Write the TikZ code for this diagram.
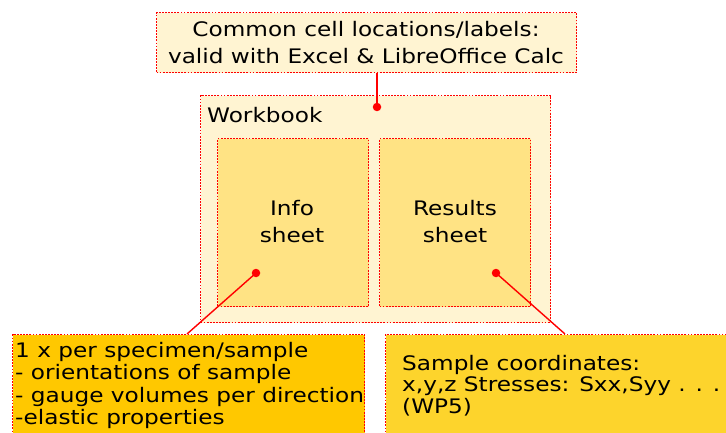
\documentclass[tikz,border=0pt]{standalone}
\usepackage{fontspec}
\setmainfont[FakeStretch=1.16]{DejaVu Sans}
\definecolor{cream}{HTML}{FFF4D2}
\definecolor{sheetc}{HTML}{FFE384}
\definecolor{leftc}{HTML}{FFC800}
\definecolor{rightc}{HTML}{FDD42C}
\begin{document}
\begin{tikzpicture}[x=1pt,y=-1pt,
  box/.style={draw=red, line width=1.1pt, dash pattern=on 1.8pt off 1.3pt, inner sep=0pt, anchor=north west},
  lbl/.style={font=\fontsize{20}{27}\selectfont, align=center, inner sep=0pt},
  note/.style={font=\fontsize{20}{22.5}\selectfont, align=left, inner sep=0pt, anchor=north west},
  dot/.style={circle, fill=red, inner sep=0pt, minimum size=8.5pt},
  conn/.style={red, line width=1.4pt}]
\useasboundingbox (0,0) rectangle (726,433);
\clip (0,0) rectangle (726,433);
% boxes
\node[box, fill=cream, minimum width=420, minimum height=60] (top) at (156,12) {};
\node[box, fill=cream, minimum width=350, minimum height=227] (wb) at (200,95) {};
\node[box, fill=sheetc, minimum width=151, minimum height=168] (info) at (217,138) {};
\node[box, fill=sheetc, minimum width=151, minimum height=168] (res) at (379,138) {};
\node[box, fill=leftc, minimum width=352, minimum height=130] (lbox) at (12,334) {};
\node[box, fill=rightc, minimum width=400, minimum height=130] (rbox) at (385,334) {};
% texts
\node[lbl] (toptext) at (366,43) {Common cell locations/labels:\\valid with Excel \& LibreOffice Calc};
\node[lbl, anchor=base west] (wbtext) at (207,123) {Workbook};
\node[lbl] (infotext) at (292,222) {Info\\sheet};
\node[lbl] (restext) at (455,222) {Results\\sheet};
\node[note] (ltext) at (15,342) {1 x per specimen/sample\\- orientations of sample\\- gauge volumes per direction\\-elastic properties};
\node[note, font=\fontsize{20}{21.5}\selectfont] (rtext) at (402,355) {Sample coordinates:\\x,y,z Stresses: Sxx,Syy . . .\\(WP5)};
% dots and connectors
\node[dot] (wbdot) at (377,107) {};
\node[dot] (infodot) at (256,273) {};
\node[dot] (resdot) at (496,273) {};
\coordinate (lc) at (187,334);
\coordinate (rc) at (565,334);
\draw[conn] (wbdot.center) -- (wbdot.center |- top.south);
\draw[conn] (infodot.center) -- (lc);
\draw[conn] (resdot.center) -- (rc);
\end{tikzpicture}
\end{document}
